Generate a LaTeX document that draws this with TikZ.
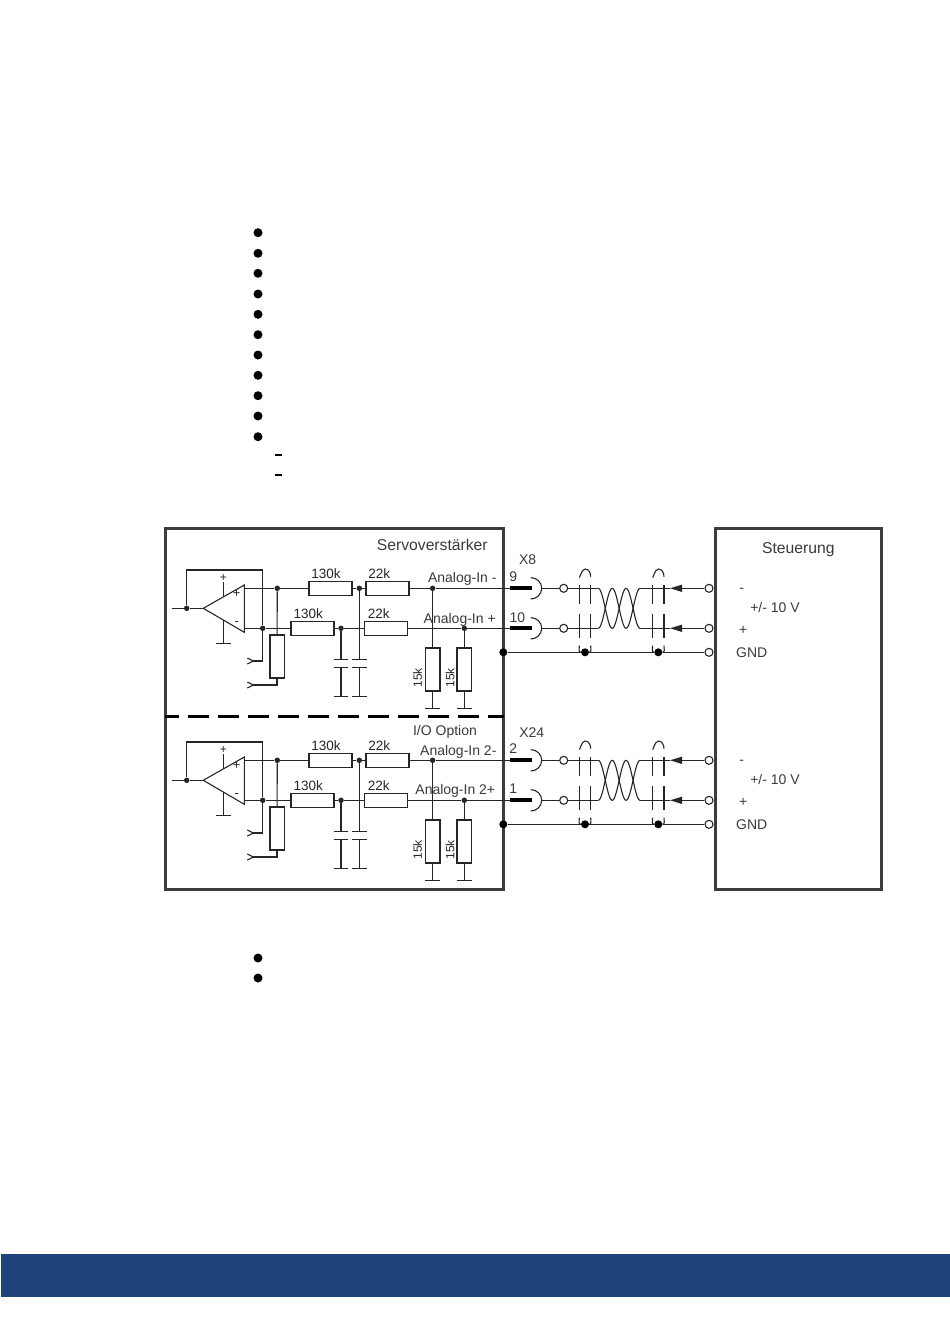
\documentclass[tikz,border=0pt]{standalone}
\usepackage{fontspec}
\setmainfont{Liberation Sans}
\usetikzlibrary{arrows.meta}
\definecolor{footblue}{HTML}{1F4279}
\definecolor{ink}{HTML}{262626}
\definecolor{txt}{HTML}{3A3A3A}
\tikzstyle{wire} = [line width=1.1pt, draw=ink]
\tikzstyle{gnd} = [wire, -{Bar[width=14.5pt,length=1pt]}]
\tikzstyle{plate} = [wire, {Bar[width=14.5pt,length=1pt]}-{Bar[width=14.5pt,length=1pt]}]
\tikzstyle{sigtip} = [wire, -{Triangle[length=12pt,width=7pt]}]
\tikzstyle{frame} = [rectangle, draw=ink!90, line width=3pt, inner sep=0pt]
\tikzstyle{resh} = [rectangle, draw=ink, line width=1.5pt, fill=white, inner sep=0pt, minimum width=43pt, minimum height=14pt]
\tikzstyle{resv} = [rectangle, draw=ink, line width=1.5pt, fill=white, inner sep=0pt, minimum width=14.5pt, minimum height=43pt]
\tikzstyle{dot} = [circle, fill=ink, inner sep=0pt, minimum size=5.5pt]
\tikzstyle{bigdot} = [circle, fill=black, inner sep=0pt, minimum size=8pt]
\tikzstyle{term} = [circle, draw=ink, line width=1.1pt, fill=white, inner sep=0pt, minimum size=8pt]
\tikzstyle{pin} = [rectangle, fill=black, inner sep=0pt, minimum width=22pt, minimum height=4pt]
\tikzstyle{bullet} = [circle, fill=black, inner sep=0pt, minimum size=9pt]
\tikzstyle{dashmark} = [rectangle, fill=black, inner sep=0pt, minimum width=6.5pt, minimum height=2pt]
\tikzstyle{lbl} = [inner sep=0pt, text=txt, font=\fontsize{14}{16}\selectfont]
\tikzstyle{head} = [inner sep=0pt, text=txt, font=\fontsize{15.7}{18}\selectfont]
\tikzstyle{val} = [inner sep=0pt, text=ink, font=\fontsize{13.5}{15}\selectfont]
\tikzstyle{valv} = [inner sep=0pt, text=ink, rotate=90, font=\fontsize{12}{14}\selectfont]

\begin{document}
\begin{tikzpicture}[x=1pt, y=-1pt]
\useasboundingbox (0,0) rectangle (950,1344);

%% PAGE

\fill[footblue] (1,1254) rectangle (950,1297);
\foreach \yb [count=\i] in {232.7,253.3,273.3,294,314.3,334.7,355,375.3,395.7,416,436.7,958,978}
  \node (bul\i) [bullet] at (258,\yb) {};
\node (dash1) [dashmark] at (278.3,455.3) {};
\node (dash2) [dashmark, below of=dash1, node distance=20pt] {};

%% FRAMES

\node (servo) [frame, minimum width=338.5pt, minimum height=361pt] at (334.25,708.5) {};
\node (steuer) [frame, minimum width=166.5pt, minimum height=361pt] at (798.25,708.5) {};
\coordinate (sepL) at (165,716.7);
\coordinate (sepR) at (503.5,716.7);
\draw [line width=3pt, draw=black, dash pattern=on 21pt off 9pt, dash phase=6.6pt] (sepL) -- (sepR);

%% TEXTS

\node (servo_label) [head] at (432.3,545) {Servoverstärker};
\node (steuer_label) [head] at (798.3,549.5) {Steuerung};
\node (io_label) [lbl] at (445,732) {I/O Option};
\node (x8) [lbl] at (527.7,560) {X8};
\node (x24) [lbl] at (531.7,732.3) {X24};
\node (ain1n) [lbl] at (462.3,579.3) {Analog-In -};
\node (ain1p) [lbl] at (459.7,620.3) {Analog-In +};
\node (ain2n) [lbl] at (458.3,752) {Analog-In 2-};
\node (ain2p) [lbl] at (455.3,791.3) {Analog-In 2+};
\node (p9) [lbl] at (513.3,576.7) {9};
\node (p10) [lbl] at (517.3,617.3) {10};
\node (p2) [lbl] at (513.3,749) {2};
\node (p1) [lbl] at (513.3,789) {1};

%% TWO INPUT CHANNELS

\foreach \blk/\dy in {a/0,b/172} {
\begin{scope}[shift={(0,\dy)}]

%% NODES

\coordinate (apex\blk) at (203.3,608.3);
\coordinate (topc\blk) at (244.3,585);
\coordinate (botc\blk) at (244.3,632.3);
\coordinate (inP\blk) at (244.3,588.3);
\coordinate (inN\blk) at (244.3,628.3);
\coordinate (out\blk) at (171.7,608.3);
\coordinate (supT\blk) at (223.3,581.5);
\coordinate (supA\blk) at (223.3,596.9);
\coordinate (supB\blk) at (223.3,620);
\coordinate (supG\blk) at (223.3,644);
\coordinate (chevA\blk) at (253.3,661);
\coordinate (chevB\blk) at (253.3,685);

\node (jfb\blk) [dot] at (186.7,608.3) {};
\node (j1\blk) [dot] at (277.3,588.3) {};
\node (r1\blk) [resh, right of=j1\blk, node distance=53pt] {};
\node (j2\blk) [dot, right of=r1\blk, node distance=29pt] {};
\node (r2\blk) [resh, right of=j2\blk, node distance=28pt] {};
\node (j3\blk) [dot, right of=r2\blk, node distance=45.3pt] {};
\node (j0\blk) [dot] at (262.7,628.3) {};
\node (r3\blk) [resh, right of=j0\blk, node distance=50pt] {};
\node (j4\blk) [dot, right of=r3\blk, node distance=28.3pt] {};
\node (r4\blk) [resh, right of=j4\blk, node distance=45pt] {};
\node (j5\blk) [dot, right of=r4\blk, node distance=78.3pt] {};
\node (rp\blk) [resv] at (277,656.7) {};
\node (r5\blk) [resv, below of=j3\blk, node distance=81.3pt] {};
\node (r6\blk) [resv, below of=j5\blk, node distance=41.3pt] {};

\node (l1\blk) [val] at (326,574) {130k};
\node (l2\blk) [val] at (379.3,574) {22k};
\node (l3\blk) [val] at (308.3,614) {130k};
\node (l4\blk) [val] at (378.7,614) {22k};
\node (l5\blk) [valv] at (417.7,677.7) {15k};
\node (l6\blk) [valv] at (450,677.7) {15k};
\node (plus\blk) [inner sep=0pt, text=ink, font=\fontsize{12}{14}\selectfont] at (223.3,578) {+};
\node (opp\blk) [inner sep=0pt, text=ink, font=\fontsize{13}{14}\selectfont] at (236.7,594) {+};
\node (opn\blk) [inner sep=0pt, text=ink, font=\fontsize{13}{14}\selectfont] at (236.7,624) {-};

\node (pinA\blk) [pin] at (521.2,588.3) {};
\node (pinB\blk) [pin] at (521.2,628.3) {};
\coordinate (sockA\blk) at (541.7,588.3);
\coordinate (sockB\blk) at (541.7,628.3);
\node (tA\blk) [term] at (563.7,588.3) {};
\node (tB\blk) [term] at (563.7,628.3) {};
\coordinate (twA\blk) at (598.3,588.3);
\coordinate (twB\blk) at (598.3,628.3);
\coordinate (teA\blk) at (640,588.3);
\coordinate (teB\blk) at (640,628.3);
\coordinate (tipA\blk) at (670,588.3);
\coordinate (tipB\blk) at (670,628.3);
\node (sA\blk) [term] at (709,588.3) {};
\node (sB\blk) [term] at (709,628.3) {};
\node (sG\blk) [term] at (709,652.3) {};
\node (jG\blk) [bigdot] at (503.3,652.3) {};
\node (shd1\blk) [bigdot] at (585,652.3) {};
\node (shd2\blk) [bigdot] at (658.3,652.3) {};

\node (mn\blk) [lbl] at (741.7,590.7) {-};
\node (volt\blk) [lbl] at (775,607.7) {+/- 10 V};
\node (pl\blk) [lbl] at (743.3,630.8) {+};
\node (gndt\blk) [lbl] at (751.7,652.3) {GND};

%% ARROWS

\draw [wire] (topc\blk) -- (apex\blk) -- (botc\blk) -- cycle;
\draw [wire] (out\blk) -- (jfb\blk) -- (apex\blk);
\draw [wire] (jfb\blk) |- ++(76,-38.3) -- (j0\blk) |- (chevA\blk);
\draw [wire] (chevA\blk) ++(-6,-3) -- (chevA\blk) -- ++(-6,3);
\draw [wire] (supT\blk) -- (supA\blk);
\draw [gnd] (supB\blk) -- (supG\blk);

\draw [wire] (inP\blk) -- (j1\blk) -- (r1\blk) -- (j2\blk) -- (r2\blk) -- (j3\blk) -- (pinA\blk);
\draw [wire] (inN\blk) -- (j0\blk) -- (r3\blk) -- (j4\blk) -- (r4\blk) -- (j5\blk) -- (pinB\blk);
\draw [wire] (j1\blk) -- (rp\blk);
\draw [wire] (rp\blk.south) |- (chevB\blk);
\draw [wire] (chevB\blk) ++(-6,-3) -- (chevB\blk) -- ++(-6,3);

\draw [gnd] (j4\blk) -- ++(0,31.7);
\draw [plate] (j4\blk) ++(0,39) -- ++(0,29.4);
\draw [gnd] (j2\blk) -- ++(0,71.7);
\draw [plate] (j2\blk) ++(0,79) -- ++(0,29.4);

\draw [wire] (j3\blk) -- (r5\blk);
\draw [gnd] (r5\blk) -- ++(0,39.5);
\draw [wire] (j5\blk) -- (r6\blk);
\draw [gnd] (r6\blk) -- ++(0,39.5);

\draw [wire] (sockA\blk) ++(-11,-10.7) to[out=0,in=90] (sockA\blk) to[out=-90,in=0] ++(-11,10.7);
\draw [wire] (sockB\blk) ++(-11,-10.7) to[out=0,in=90] (sockB\blk) to[out=-90,in=0] ++(-11,10.7);
\draw [wire] (sockA\blk) -- (tA\blk) -- (twA\blk);
\draw [wire] (sockB\blk) -- (tB\blk) -- (twB\blk);
\draw [wire, shift={(twA\blk)}] plot[domain=0:1, samples=48] ({41.7*\x},{20-20*cos(540*\x)});
\draw [wire, shift={(twA\blk)}] plot[domain=0:1, samples=48] ({41.7*\x},{20+20*cos(540*\x)});
\draw [sigtip] (sA\blk) -- (tipA\blk);
\draw [sigtip] (sB\blk) -- (tipB\blk);
\draw [wire] (tipA\blk) -- (teA\blk);
\draw [wire] (tipB\blk) -- (teB\blk);
\draw [wire] (jG\blk) -- (shd1\blk) -- (shd2\blk) -- (sG\blk);

\foreach \sh in {shd1\blk,shd2\blk} {
  \draw [wire] (\sh) ++(-5.7,-67.3) -- ++(0,19.3) ++(0,10) -- ++(0,23.4);
  \draw [wire] (\sh) ++(5.7,-67.3) -- ++(0,19.3) ++(0,10) -- ++(0,23.4);
  \draw [wire] (\sh) ++(-5.7,-75.6) to[out=-90,in=180] ++(5.7,-7.7) to[out=0,in=90] ++(5.7,7.7);
  \draw [wire] (\sh) ++(-5.7,-6.6) to[out=-90,in=180] (\sh);
  \draw [wire] (\sh) ++(5.7,-6.6) to[out=-90,in=0] (\sh);
}

\end{scope}
}

\end{tikzpicture}
\end{document}
